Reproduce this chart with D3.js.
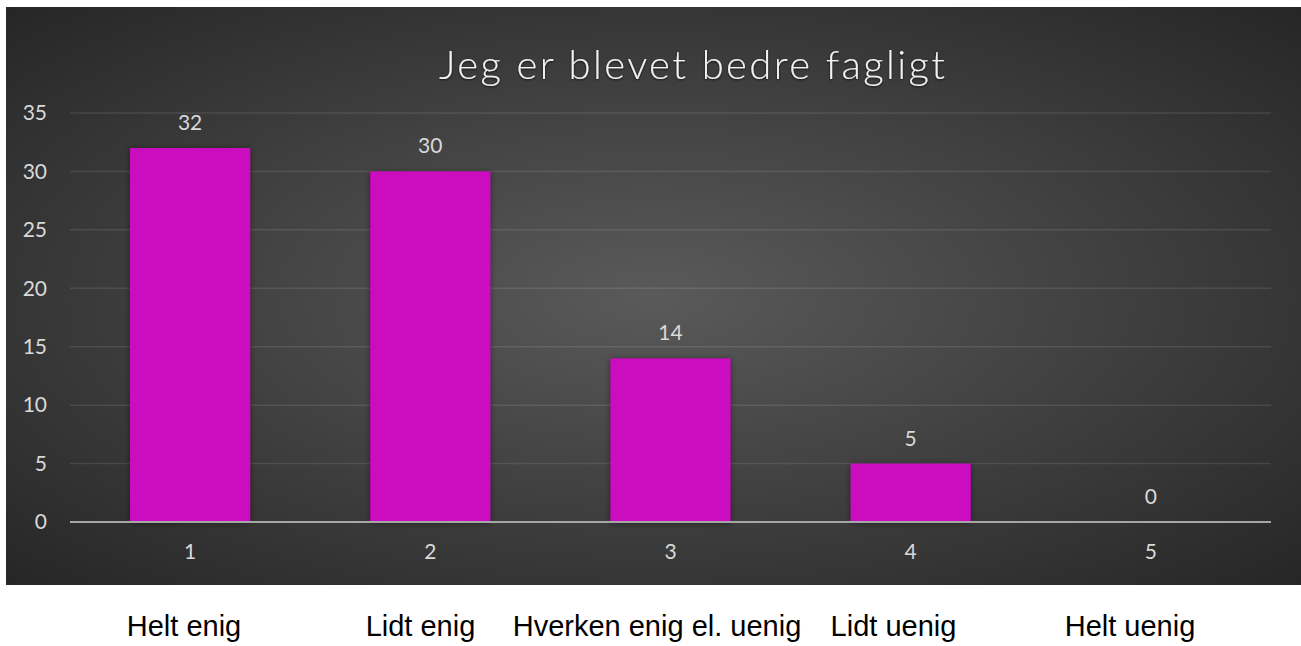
<!DOCTYPE html>
<html>
<head>
<meta charset="utf-8">
<script src="https://cdn.jsdelivr.net/npm/d3@7"></script>
<style>
    body { margin: 0; background: #ffffff; }
    svg { display: block; }
</style>
</head>
<body>
<script>
// data
const title = "Jeg er blevet bedre fagligt";
const categories = ["1", "2", "3", "4", "5"];
const values = [32, 30, 14, 5, 0];
const answerLabels = ["Helt enig", "Lidt enig", "Hverken enig el. uenig", "Lidt uenig", "Helt uenig"];
const yTicks = [0, 5, 10, 15, 20, 25, 30, 35];

const svgWidth = 1301;
const svgHeight = 646;
const chartBox = { x: 6, y: 7, w: 1295, h: 578 };
const plot = { left: 70, right: 1271, top: 113, bottom: 522 };

let svg = d3.select("body")
    .append("svg")
    .attr("width", svgWidth)
    .attr("height", svgHeight);

let defs = svg.append("defs");

//background gradient
let grad = defs.append("radialGradient")
    .attr("id", "bg")
    .attr("cx", "50%").attr("cy", "50%").attr("r", "72%");
grad.append("stop").attr("offset", "0%").attr("stop-color", "#5a5a5a");
grad.append("stop").attr("offset", "100%").attr("stop-color", "#252525");

//shadow for bars
let shadow = defs.append("filter").attr("id", "shadow")
    .attr("x", "-10%").attr("y", "-10%").attr("width", "120%").attr("height", "120%");
shadow.append("feDropShadow")
    .attr("dx", 0).attr("dy", 1).attr("stdDeviation", 3)
    .attr("flood-color", "#000").attr("flood-opacity", 0.45);

let textShadow = defs.append("filter").attr("id", "tshadow");
textShadow.append("feDropShadow")
    .attr("dx", 0).attr("dy", 1).attr("stdDeviation", 1.2)
    .attr("flood-color", "#000").attr("flood-opacity", 0.7);

svg.append("rect")
    .attr("x", chartBox.x).attr("y", chartBox.y)
    .attr("width", chartBox.w).attr("height", chartBox.h)
    .attr("fill", "url(#bg)");

//scales
let xScale = d3.scaleBand()
    .domain(categories)
    .range([plot.left, plot.right])
    .paddingInner(0.5)
    .paddingOuter(0.25);

let yScale = d3.scaleLinear()
    .domain([0, 35])
    .range([plot.bottom, plot.top]);

//gridlines
svg.append("g")
    .selectAll("line")
    .data(yTicks.filter(d => d > 0))
    .enter()
    .append("line")
    .attr("x1", plot.left).attr("x2", plot.right)
    .attr("y1", d => yScale(d)).attr("y2", d => yScale(d))
    .attr("stroke", "#ffffff").attr("stroke-opacity", 0.1)
    .attr("stroke-width", 1.5);

//y axis labels
const yAxis = d3.axisLeft(yScale).tickValues(yTicks).tickSize(0).tickPadding(0);
let yg = svg.append("g")
    .attr("transform", `translate(${plot.left - 23}, 0)`)
    .call(yAxis);
yg.select(".domain").remove();
yg.selectAll("text")
    .attr("fill", "#d9d9d9")
    .style("font-family", "Lato, 'Open Sans', sans-serif")
    .style("font-size", "21px");

//bars
svg.append("g")
    .selectAll("rect")
    .data(values)
    .enter()
    .append("rect")
    .attr("x", (d, i) => xScale(categories[i]))
    .attr("y", d => yScale(d))
    .attr("width", xScale.bandwidth())
    .attr("height", d => yScale(0) - yScale(d))
    .attr("fill", "#cc09bf")
    .attr("filter", d => d > 0 ? "url(#shadow)" : null);

//value labels
svg.append("g")
    .selectAll("text")
    .data(values)
    .enter()
    .append("text")
    .attr("x", (d, i) => xScale(categories[i]) + xScale.bandwidth() / 2)
    .attr("y", d => yScale(d) - 18)
    .attr("text-anchor", "middle")
    .attr("fill", "#d9d9d9")
    .style("font-family", "Lato, 'Open Sans', sans-serif")
    .style("font-size", "21px")
    .text(d => d);

//x axis
const xAxis = d3.axisBottom(xScale).tickSize(0).tickPadding(22);
let xg = svg.append("g")
    .attr("transform", `translate(0, ${plot.bottom})`)
    .call(xAxis);
xg.select(".domain")
    .attr("d", `M${plot.left},0H${plot.right}`)
    .attr("stroke", "#a6a6a6")
    .attr("stroke-width", 2);
xg.selectAll("text")
    .attr("fill", "#d9d9d9")
    .style("font-family", "Lato, 'Open Sans', sans-serif")
    .style("font-size", "21px");

//title
svg.append("text")
    .attr("x", 692)
    .attr("y", 79)
    .attr("text-anchor", "middle")
    .attr("fill", "#f2f2f2")
    .attr("filter", "url(#tshadow)")
    .attr("textLength", 506)
    .attr("lengthAdjust", "spacing")
    .style("font-family", "Lato, 'Open Sans', sans-serif")
    .style("font-weight", 300)
    .style("font-size", "40px")
    .text(title);

//answer labels below the chart
let answerScale = d3.scalePoint()
    .domain(answerLabels)
    .range([184, 1130]);

svg.append("g")
    .selectAll("text")
    .data(answerLabels)
    .enter()
    .append("text")
    .attr("x", d => answerScale(d))
    .attr("y", 636)
    .attr("text-anchor", "middle")
    .attr("fill", "#000000")
    .style("font-family", "'Liberation Sans', Arial, sans-serif")
    .style("font-size", "29px")
    .text(d => d);
</script>
</body>
</html>
